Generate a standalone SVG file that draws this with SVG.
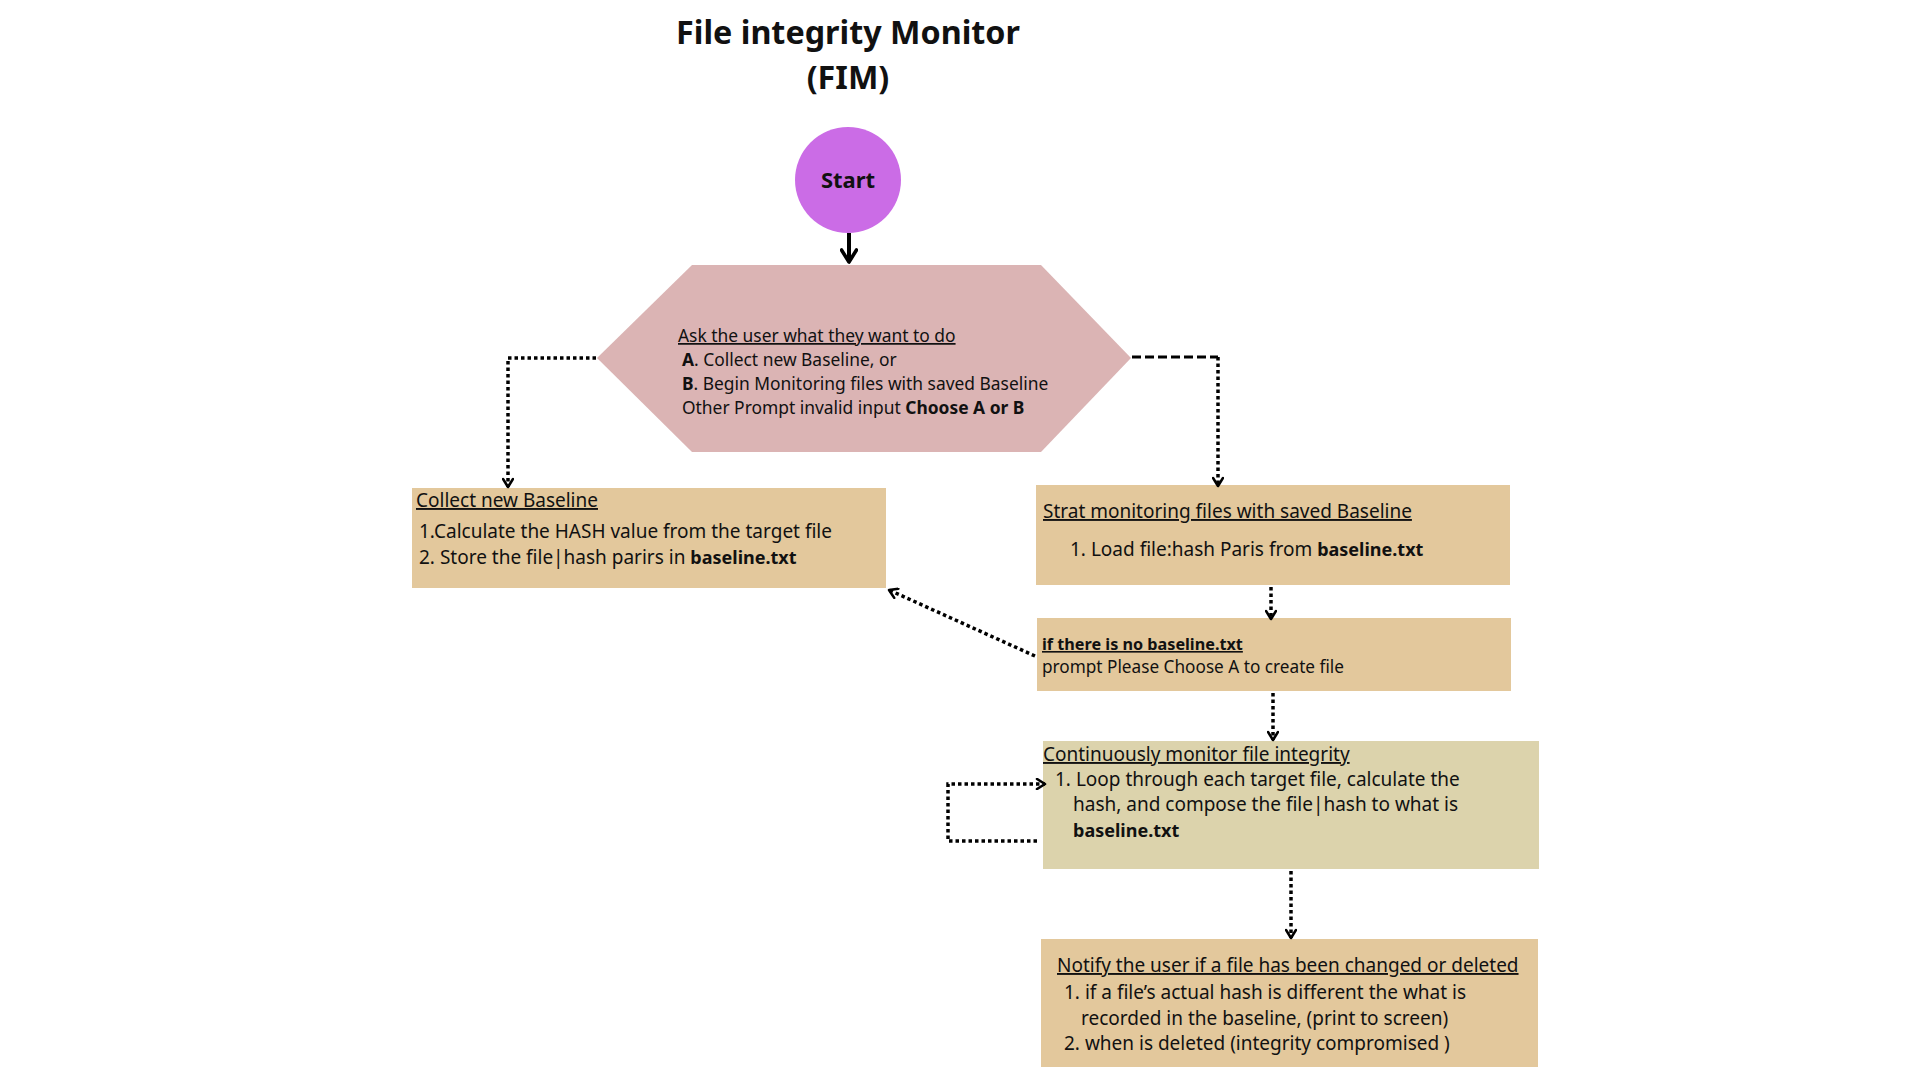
<svg xmlns="http://www.w3.org/2000/svg" width="1920" height="1080" viewBox="0 0 1920 1080">
<defs>
<style>
.t{font-family:"Noto Sans","Open Sans","Liberation Sans",sans-serif;fill:#111;}
.title{font-size:32.3px;font-weight:bold;text-anchor:middle;}
.h{font-size:17.4px;}
.b{font-size:19px;}
.s{font-size:17.2px;}
.sb{font-size:16.2px;font-weight:bold;text-decoration:underline;}
.u{text-decoration:underline;}
.bold{font-weight:bold;}
.bb{font-weight:bold;font-size:18px;}
.dot{fill:none;stroke:#000;stroke-width:3.5;stroke-dasharray:3.5 3;}
.dash{fill:none;stroke:#000;stroke-width:3;stroke-dasharray:9 4;}
.tan{fill:#E3C89C;}
</style>
<marker id="chev" viewBox="0 0 12 12" refX="10" refY="6" markerWidth="12" markerHeight="12" markerUnits="userSpaceOnUse" orient="auto">
<path d="M2,1 L10,6 L2,11" fill="none" stroke="#000" stroke-width="2.6" stroke-linecap="round" stroke-linejoin="round"/>
</marker>
<marker id="chevS" viewBox="0 0 18 18" refX="15" refY="9" markerWidth="18" markerHeight="18" markerUnits="userSpaceOnUse" orient="auto">
<path d="M3,1.5 L15,9 L3,16.5" fill="none" stroke="#000" stroke-width="3.6" stroke-linecap="round" stroke-linejoin="round"/>
</marker>
</defs>
<rect width="1920" height="1080" fill="#fff"/>

<g id="title">
<text class="t title" x="848" y="44">File integrity Monitor</text>
<text class="t title" x="848" y="89">(FIM)</text>
</g>

<g id="start">
<circle cx="848" cy="180" r="53" fill="#CB6CE6"/>
<text class="t bold" x="848" y="188" font-size="22" text-anchor="middle">Start</text>
</g>

<g id="decision">
<polygon points="597,358 692,265 1041,265 1131,358 1041,452 692,452" fill="#DBB4B4"/>
<text class="t h" x="678" y="342"><tspan class="u">Ask the user what they want to do</tspan></text>
<text class="t h" x="682" y="366"><tspan class="bold">A</tspan>. Collect new Baseline, or</text>
<text class="t h" x="682" y="390"><tspan class="bold">B</tspan>. Begin Monitoring files with saved Baseline</text>
<text class="t h" x="682" y="414">Other Prompt invalid input <tspan class="bold">Choose A or B</tspan></text>
</g>

<g id="collect">
<rect class="tan" x="412" y="488" width="474" height="100"/>
<text class="t b u" x="416" y="507">Collect new Baseline</text>
<text class="t b" x="419" y="538">1.Calculate the HASH value from the target file</text>
<text class="t b" x="419" y="564">2. Store the file|hash parirs in <tspan class="bb">baseline.txt</tspan></text>
</g>

<g id="monitor">
<rect class="tan" x="1036" y="485" width="474" height="100"/>
<text class="t b u" x="1043" y="518">Strat monitoring files with saved Baseline</text>
<text class="t b" x="1070" y="556">1. Load file:hash Paris from <tspan class="bb">baseline.txt</tspan></text>
</g>

<g id="nobaseline">
<rect class="tan" x="1037" y="618" width="474" height="73"/>
<text class="t sb" x="1042" y="650">if there is no baseline.txt</text>
<text class="t s" x="1042" y="673">prompt Please Choose A to create file</text>
</g>

<g id="continuous">
<rect x="1043" y="741" width="496" height="128" fill="#DCD3AC"/>
<text class="t b u" x="1043" y="761">Continuously monitor file integrity</text>
<text class="t b" x="1055" y="786">1. Loop through each target file, calculate the</text>
<text class="t b" x="1073" y="811">hash, and compose the file|hash to what is</text>
<text class="t bb" x="1073" y="837">baseline.txt</text>
</g>

<g id="notify">
<rect class="tan" x="1041" y="939" width="497" height="128"/>
<text class="t b u" x="1057" y="972">Notify the user if a file has been changed or deleted </text>
<text class="t b" x="1064" y="999">1. if a file’s actual hash is different the what is</text>
<text class="t b" x="1081" y="1025">recorded in the baseline, (print to screen)</text>
<text class="t b" x="1064" y="1050">2. when is deleted (integrity compromised )</text>
</g>

<g id="connectors">
<path d="M849,233 L849,262" fill="none" stroke="#000" stroke-width="4" marker-end="url(#chevS)"/>
<path class="dot" d="M596,358 L508,358 L508,487" marker-end="url(#chev)"/>
<path class="dash" d="M1132,357 L1218,357"/>
<path class="dot" d="M1218,357 L1218,486" marker-end="url(#chev)"/>
<path class="dot" d="M1271,587 L1271,619" marker-end="url(#chev)"/>
<path class="dot" d="M1035,656 L889,590" marker-end="url(#chev)"/>
<path class="dot" d="M1273,693 L1273,740" marker-end="url(#chev)"/>
<path class="dot" d="M1037,841 L948,841 L948,784 L1045,784" marker-end="url(#chev)"/>
<path class="dot" d="M1291,871 L1291,938" marker-end="url(#chev)"/>
</g>
</svg>
